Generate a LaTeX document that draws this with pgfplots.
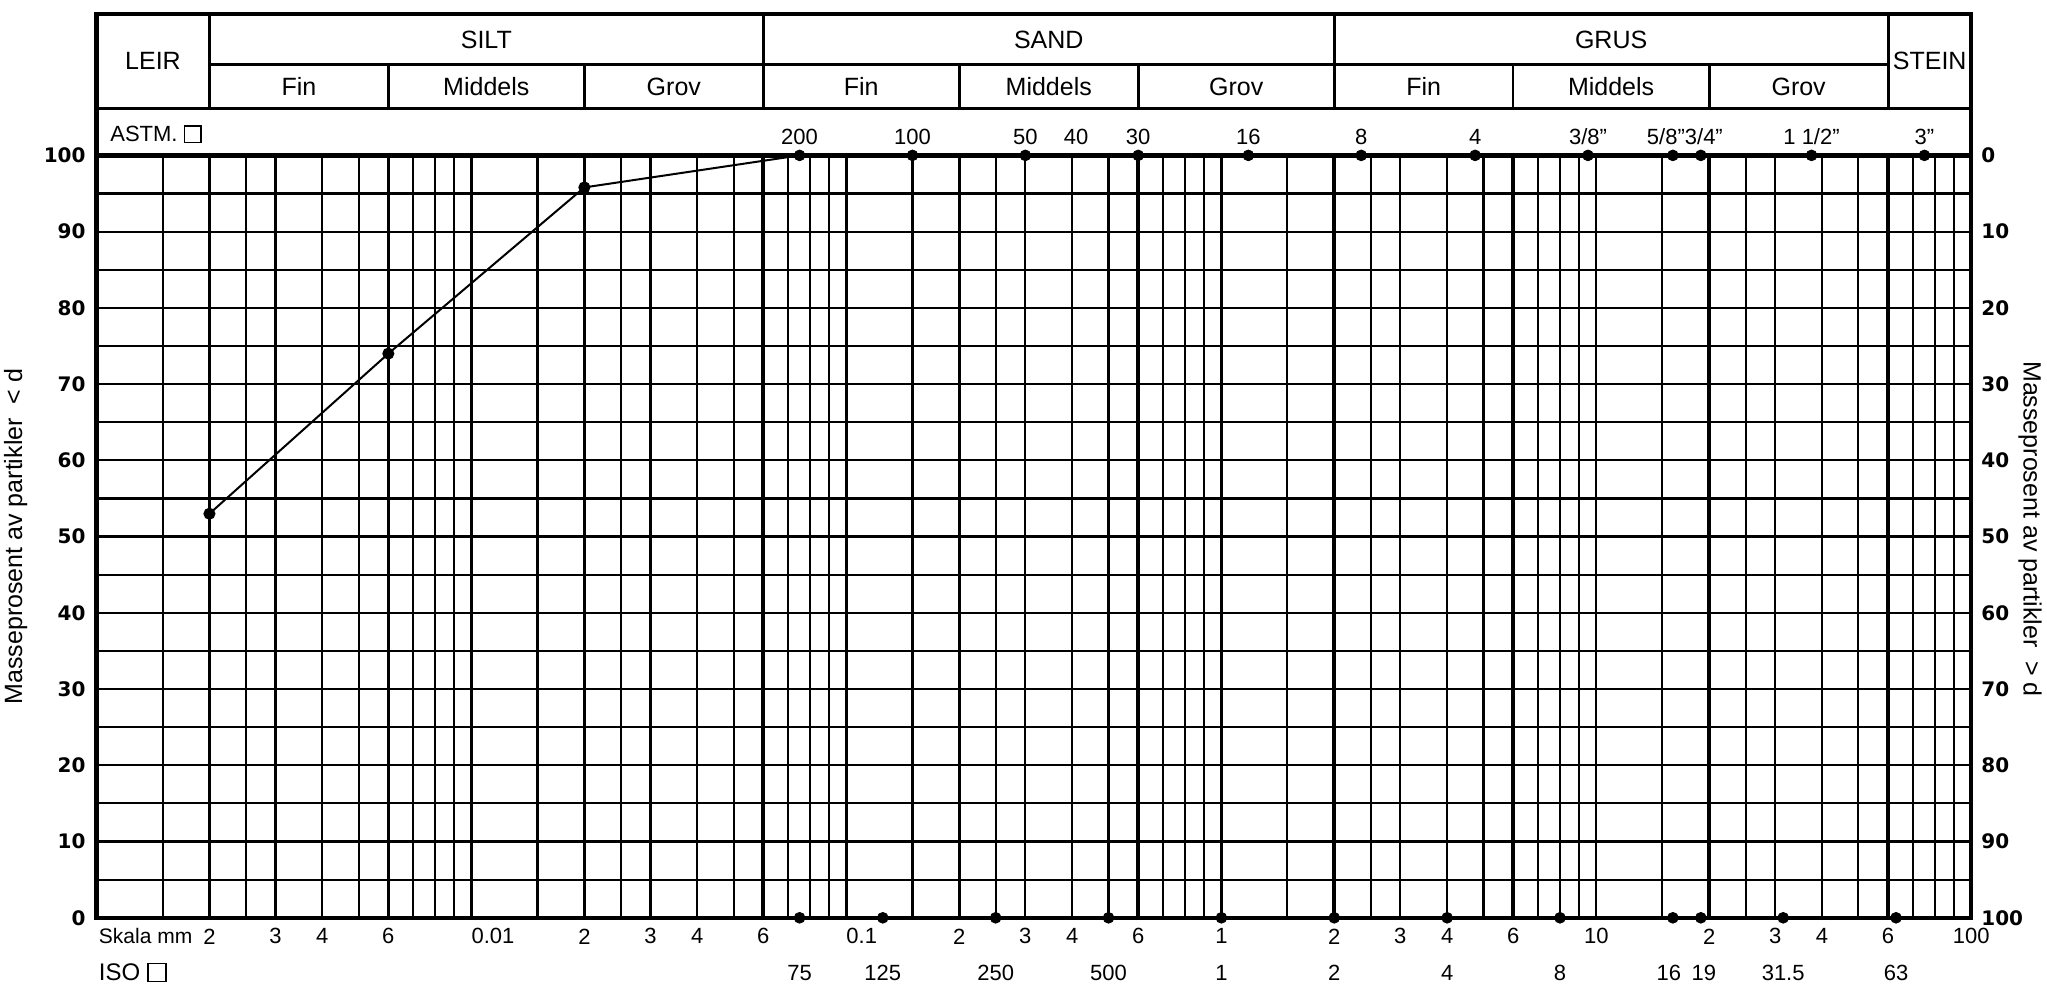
\documentclass[border=0pt]{standalone}
\usepackage{pgfplots}
\pgfplotsset{compat=1.18}
\usepackage{fontspec}
\setmainfont{Liberation Sans}
\newfontfamily\numfont{DejaVu Sans}
\newcommand\sq{{\setlength{\fboxsep}{0pt}\setlength{\fboxrule}{0.8pt}\fbox{\rule{0pt}{0.68em}\hspace{0.68em}}}}
\begin{document}
\begin{tikzpicture}
\useasboundingbox (-48.3pt,-34.1pt) rectangle (975.2pt,458.9pt);
\begin{axis}[
  at={(0,0)}, anchor=south west, scale only axis,
  width=937.35pt, height=381.2pt,
  xmode=log, xmin=0.001, xmax=100, ymin=0, ymax=100,
  clip=false,
  axis line style={line width=2.2pt},
  xtick={0.002,0.003,0.004,0.006,0.01,0.02,0.03,0.04,0.06,0.1,0.2,0.3,0.4,0.6,1,2,3,4,6,10,20,30,40,60,100},
  xticklabels={2,3,4,6,\rlap{0.01},2,3,4,6,\rlap{0.1},2,3,4,6,1,2,3,4,6,10,2,3,4,6,100},
  minor xtick={0.0015,0.0025,0.005,0.007,0.008,0.009,0.015,0.025,0.05,0.07,0.08,0.09,0.15,0.25,0.5,0.7,0.8,0.9,1.5,2.5,5,7,8,9,15,25,50,70,80,90},
  ytick={0,10,...,100},
  minor ytick={5,15,...,95},
  yticklabels={0,10,20,30,40,50,60,70,80,90,100},
  grid=both,
  major grid style={black, line width=1.1pt},
  minor grid style={black, line width=1.05pt},
  major tick length=0pt, minor tick length=0pt,
  xticklabel style={font=\fontsize{11}{13}\selectfont, anchor=center, yshift=-9.3pt},
  yticklabel style={font=\numfont\bfseries\fontsize{10}{12}\selectfont, anchor=east, xshift=-2pt},
  extra x ticks={0.002,0.006,0.02,0.06,0.2,0.6,2,6,20,60},
  extra x tick labels={},
  extra x tick style={grid=major, major grid style={black, line width=1.8pt}},
]
% header frame
\draw[line width=2.2pt] (axis cs:0.001,100) -- (axis cs:0.001,118.55) -- (axis cs:100,118.55) -- (axis cs:100,100);
\draw[line width=1.5pt] (axis cs:0.001,106.18) -- (axis cs:100,106.18);
\draw[line width=1.5pt] (axis cs:0.002,111.9) -- (axis cs:60,111.9);
\pgfplotsinvokeforeach{0.002,0.06,2,60}{\draw[line width=1.5pt] (axis cs:#1,106.18) -- (axis cs:#1,118.55);}
\pgfplotsinvokeforeach{0.006,0.02,0.2,0.6,6,20}{\draw[line width=1.3pt] (axis cs:#1,106.18) -- (axis cs:#1,111.9);}
% header text
\begin{scope}[every node/.style={font=\fontsize{12.5}{14}\selectfont}]
\node at (axis cs:0.001414,112.36) {LEIR};
\node at (axis cs:77.46,112.36) {STEIN};
\node at (axis cs:0.01095,115.2) {SILT};
\node at (axis cs:0.3464,115.2) {SAND};
\node at (axis cs:10.95,115.2) {GRUS};
\pgfplotsinvokeforeach{0.003464,0.1095,3.464}{\node at (axis cs:#1,109.0) {Fin};}
\pgfplotsinvokeforeach{0.01095,0.3464,10.95}{\node at (axis cs:#1,109.0) {Middels};}
\pgfplotsinvokeforeach{0.03464,1.095,34.64}{\node at (axis cs:#1,109.0) {Grov};}
\end{scope}
\node[anchor=west, inner sep=0pt, font=\fontsize{11}{13}\selectfont] at ([xshift=6.7pt]axis cs:0.001,102.8) {ASTM. \sq};
\node[anchor=west, inner sep=0pt, font=\fontsize{10.5}{13}\selectfont] at ([xshift=1pt,yshift=-9.3pt]axis cs:0.001,0) {Skala mm};
\node[anchor=west, inner sep=0pt, font=\fontsize{12}{14}\selectfont] at ([xshift=1pt,yshift=-27.4pt]axis cs:0.001,0) {ISO \sq};
% axis titles
\node[rotate=90, font=\fontsize{12.5}{14}\selectfont] at ([xshift=-40.4pt]axis cs:0.001,50) {Masseprosent av partikler\ \ < d};
\node[rotate=-90, font=\fontsize{12.5}{14}\selectfont] at ([xshift=29.4pt]axis cs:100,51) {Masseprosent av partikler\ \ > d};
% data
\addplot[black, line width=1pt, mark=*, mark size=2.5pt, mark indices={1,2,3}] coordinates {(0.002,53) (0.006,74) (0.02,95.8) (0.075,100)};
% ASTM sieves
\addplot[only marks, mark=*, mark size=2.7pt, black, point meta=explicit symbolic, nodes near coords,
  every node near coord/.append style={anchor=center, yshift=9.2pt, font=\fontsize{11}{13}\selectfont}]
  coordinates {(0.075,100)[200] (0.15,100)[100] (0.3,100)[50] (0.6,100)[30] (1.18,100)[16] (2.36,100)[8] (4.75,100)[4] (9.5,100)[3/8"] (37.5,100)[1 1/2"] (75,100)[3"]};
\addplot[only marks, mark=*, mark size=2.7pt, black, point meta=explicit symbolic, nodes near coords,
  every node near coord/.append style={anchor=center, yshift=9.2pt, xshift=-3.5pt, font=\fontsize{11}{13}\selectfont}]
  coordinates {(16,100)[5/8"]};
\addplot[only marks, mark=*, mark size=2.7pt, black, point meta=explicit symbolic, nodes near coords,
  every node near coord/.append style={anchor=center, yshift=9.2pt, xshift=1.5pt, font=\fontsize{11}{13}\selectfont}]
  coordinates {(19,100)[3/4"]};
\addplot[draw=none, mark=none, point meta=explicit symbolic, nodes near coords,
  every node near coord/.append style={anchor=center, yshift=9.2pt, font=\fontsize{11}{13}\selectfont}]
  coordinates {(0.41,100)[40]};
% ISO sieves
\addplot[only marks, mark=*, mark size=2.7pt, black, point meta=explicit symbolic, nodes near coords,
  every node near coord/.append style={anchor=center, yshift=-27.4pt, font=\fontsize{11}{13}\selectfont}]
  coordinates {(0.075,0)[75] (0.125,0)[125] (0.25,0)[250] (0.5,0)[500] (1,0)[1] (2,0)[2] (4,0)[4] (8,0)[8] (31.5,0)[31.5] (63,0)[63]};
\addplot[only marks, mark=*, mark size=2.7pt, black, point meta=explicit symbolic, nodes near coords,
  every node near coord/.append style={anchor=center, yshift=-27.4pt, xshift=-2pt, font=\fontsize{11}{13}\selectfont}]
  coordinates {(16,0)[16]};
\addplot[only marks, mark=*, mark size=2.7pt, black, point meta=explicit symbolic, nodes near coords,
  every node near coord/.append style={anchor=center, yshift=-27.4pt, xshift=1.5pt, font=\fontsize{11}{13}\selectfont}]
  coordinates {(19,0)[19]};
\end{axis}
\begin{axis}[
  at={(0,0)}, anchor=south west, scale only axis,
  width=937.35pt, height=381.2pt,
  xmode=log, xmin=0.001, xmax=100, ymin=0, ymax=100, y dir=reverse,
  axis x line=none, axis y line*=right, axis line style={draw=none},
  ytick={0,10,...,100},
  yticklabels={0,10,20,30,40,50,60,70,80,90,100},
  major tick length=0pt,
  yticklabel style={font=\numfont\bfseries\fontsize{10}{12}\selectfont, anchor=west, xshift=1.5pt},
]
\addplot[draw=none] coordinates {(1,50)};
\end{axis}
\end{tikzpicture}
\end{document}
